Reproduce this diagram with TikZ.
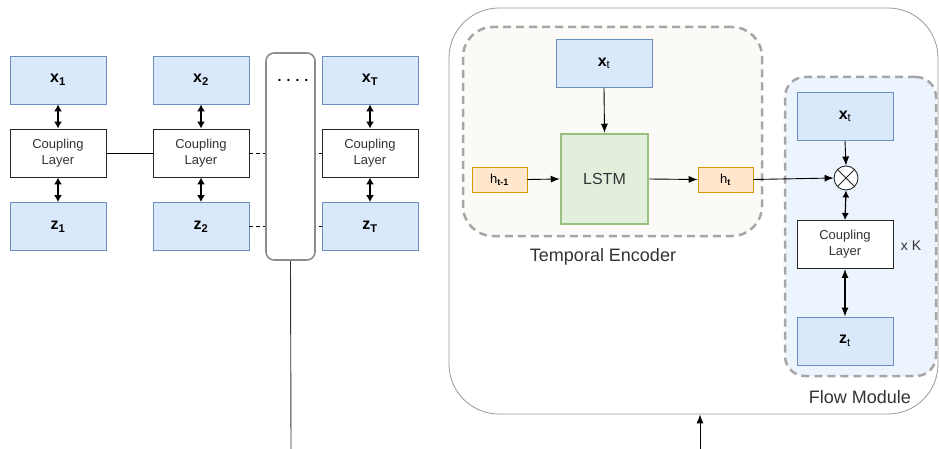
\documentclass[tikz,border=0pt]{standalone}
\usepackage{fontspec}
\setmainfont{Liberation Sans}
\usetikzlibrary{arrows.meta}

\definecolor{varfill}{HTML}{DAE8FC}
\definecolor{varline}{HTML}{6C8EBF}
\definecolor{hidfill}{HTML}{FFE6CC}
\definecolor{hidline}{HTML}{D79B00}
\definecolor{lstmfill}{HTML}{E3EFDD}
\definecolor{lstmline}{HTML}{97C07E}
\definecolor{encfill}{HTML}{FBFAF6}
\definecolor{flowfill}{HTML}{ECF4FD}
\definecolor{groupline}{HTML}{A6A6A6}
\definecolor{txt}{HTML}{333333}

\begin{document}
\begin{tikzpicture}[x=1pt,y=-1pt,
  varbox/.style={draw=varline,fill=varfill,line width=0.8pt,minimum width=96pt,minimum height=48pt,inner sep=0pt,font=\fontsize{16}{18}\selectfont},
  cplbox/.style={draw=black!85,fill=white,line width=0.9pt,minimum width=96pt,minimum height=48pt,inner sep=0pt,align=center,text=txt,font=\fontsize{13}{16}\selectfont},
  hidbox/.style={draw=hidline,fill=hidfill,line width=0.8pt,minimum width=55pt,minimum height=25pt,inner sep=0pt,font=\fontsize{13}{15}\selectfont},
  group/.style={draw=groupline,line width=2.5pt,dash pattern=on 8pt off 5pt},
  dbl/.style={{Latex[length=7pt,width=8pt]}-{Latex[length=7pt,width=8pt]},line width=1.4pt},
  arr/.style={-{Latex[length=9pt,width=7pt]},line width=0.9pt},
  lbl/.style={text=txt,font=\fontsize{18}{21}\selectfont}
]
\useasboundingbox (0,0) rectangle (939,449);

% ---------- unrolled flow over time ----------
\node[varbox] (x1) at (58,80) {\textbf{x\textsubscript{1}}};
\node[cplbox] (c1) at (58,153) {Coupling\\Layer};
\node[varbox] (z1) at (58,226.5) {\textbf{z\textsubscript{1}}};

\node[varbox] (x2) at (201,80) {\textbf{x\textsubscript{2}}};
\node[cplbox] (c2) at (201,153) {Coupling\\Layer};
\node[varbox] (z2) at (201,226.5) {\textbf{z\textsubscript{2}}};

\node[varbox] (xT) at (370,80) {\textbf{x\textsubscript{T}}};
\node[cplbox] (cT) at (370,153) {Coupling\\Layer};
\node[varbox] (zT) at (370,226.5) {\textbf{z\textsubscript{T}}};

\draw[line width=0.9pt] (c1) -- (c2);
\draw[line width=0.9pt,dash pattern=on 4pt off 3pt] (c2) -- (cT);
\draw[line width=0.9pt,dash pattern=on 4pt off 3pt] (z2) -- (zT);

\foreach \n in {1,2,T}{
  \draw[dbl] (x\n.south) -- (c\n.north);
  \draw[dbl] (c\n.south) -- (z\n.north);
}

% column of omitted time steps
\node[draw=gray!90,fill=white,line width=1.6pt,rounded corners=8pt,minimum width=49pt,minimum height=207pt] (col) at (290.5,156.5) {};
\node[anchor=base,font=\fontsize{14}{16}\selectfont\bfseries] (dots) at (293,82) {.\hspace{5pt}.\hspace{5pt}.\hspace{5pt}.};
\coordinate (colend) at (291,449);
\draw[line width=0.9pt,draw=black!80] (col.south) -- (colend);

% ---------- single time step ----------
\node[draw=gray!80,line width=0.8pt,rounded corners=50pt,minimum width=489pt,minimum height=406pt] (outer) at (693.5,211) {};
\coordinate (inb) at (700,449);
\draw[arr] (inb) -- (inb |- outer.south);

% temporal encoder
\node[group,fill=encfill,rounded corners=30pt,minimum width=299pt,minimum height=209pt] (enc) at (612.5,131.5) {};
\node[varbox] (xt) at (604,63.5) {\textbf{x}\textsubscript{t}};
\node[draw=lstmline,fill=lstmfill,line width=2.5pt,minimum width=87pt,minimum height=90pt,text=txt,font=\fontsize{16}{19}\selectfont] (lstm) at (604.5,179) {LSTM};
\node[hidbox] (hp) at (499.5,179.5) {h\textsubscript{\textbf{t-1}}};
\node[hidbox] (ht) at (725.5,179.5) {h\textsubscript{\textbf{t}}};
\node[lbl] (enclbl) at (603,257) {Temporal Encoder};

\draw[arr] (xt.south) -- (lstm.north);
\draw[arr] (hp.east) -- (lstm.west);
\draw[arr] (lstm.east) -- (ht.west);

% flow module
\node[group,fill=flowfill,rounded corners=20pt,minimum width=151pt,minimum height=299pt] (flow) at (860.5,226.5) {};
\node[varbox] (xtf) at (845,116.5) {\textbf{x}\textsubscript{t}};
\node[circle,draw=black!85,fill=white,line width=0.9pt,minimum size=24pt,inner sep=0pt] (mul) at (846,178) {};
\draw[line width=0.9pt,draw=black!85] (mul.45) -- (mul.225) (mul.135) -- (mul.315);
\node[cplbox] (cf) at (845,244.5) {Coupling\\Layer};
\node[varbox] (ztf) at (845,341) {\textbf{z}\textsubscript{t}};
\node[text=txt,font=\fontsize{14}{16}\selectfont] (rep) at (911,246) {x K};
\node[lbl] (flowlbl) at (860,397) {Flow Module};

\draw[arr] (xtf.south) -- (mul.north);
\draw[arr] (ht.east) -- (mul.west);
\draw[{Latex[length=7pt,width=7pt]}-{Latex[length=7pt,width=7pt]},line width=1.2pt] (mul.south) -- (cf.north);
\draw[{Latex[length=9pt,width=7pt]}-{Latex[length=9pt,width=7pt]},line width=1.2pt] (cf.south) -- (ztf.north);
\end{tikzpicture}
\end{document}
